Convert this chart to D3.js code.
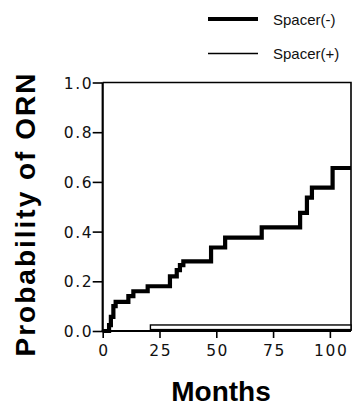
<!DOCTYPE html>
<html>
<head>
<meta charset="utf-8">
<script src="https://cdnjs.cloudflare.com/ajax/libs/d3/7.8.5/d3.min.js"></script>
<style>
  body { margin: 0; background: #fff; }
  svg { display: block; }
  .tick text { font-family: "DejaVu Sans", sans-serif; font-size: 15.5px; letter-spacing: 1.6px; fill: #111; }
  .legend text { font-family: "Liberation Sans", Arial, sans-serif; font-size: 15px; fill: #111; }
  .title { font-family: "Liberation Sans", Arial, sans-serif; font-weight: bold; font-size: 28px; fill: #000; }
</style>
</head>
<body>
<div id="chart"></div>
<script>
// Spacer(-): Kaplan-Meier steps, month at which probability jumps
var minusMonths = [0, 2.8, 3.6, 4.7, 5.7, 11.3, 13.5, 19.8, 29.6, 32.6, 34, 35.5, 47.7, 53.9, 70, 86.9, 89.9, 92.1, 101.2];
var minusProb   = [0, 0.024, 0.057, 0.10, 0.117, 0.14, 0.16, 0.18, 0.22, 0.245, 0.265, 0.28, 0.336, 0.376, 0.417, 0.475, 0.537, 0.577, 0.656];
// Spacer(+)
var plusMonths = [0, 21];
var plusProb   = [0, 0.015];

var xTicks = [0, 25, 50, 75, 100];
var yTicks = [0, 0.2, 0.4, 0.6, 0.8, 1.0];
var seriesNames = ['Spacer(-)', 'Spacer(+)'];
var maxMonth = 109.3;

var width = 353, height = 408;
var svg = d3.select('#chart').append('svg')
    .attr('width', width)
    .attr('height', height);

var x = d3.scaleLinear().domain([0, maxMonth]).range([102.7, 351]);
var y = d3.scaleLinear().domain([0, 1]).range([331, 82.5]);

// frame (top and right)
svg.append('path')
    .attr('d', 'M' + x(0) + ',' + y(1) + 'H' + x(maxMonth) + 'V' + y(0))
    .attr('fill', 'none')
    .attr('stroke', '#000')
    .attr('stroke-width', 1.6);

// Spacer(+) drawn as a hollow band
svg.append('rect')
    .attr('x', x(plusMonths[1]))
    .attr('y', y(plusProb[1]) - 2.3)
    .attr('width', x(maxMonth) - x(plusMonths[1]))
    .attr('height', 4.6)
    .attr('fill', '#fff')
    .attr('stroke', '#000')
    .attr('stroke-width', 1.4);

// Spacer(-) step curve
var minusPts = minusMonths.map(function(m, i) { return [m, minusProb[i]]; });
minusPts.push([maxMonth, minusProb[minusProb.length - 1]]);
var line = d3.line()
    .x(function(d) { return x(d[0]); })
    .y(function(d) { return y(d[1]); })
    .curve(d3.curveStepAfter);
svg.append('path')
    .datum(minusPts)
    .attr('d', line)
    .attr('fill', 'none')
    .attr('stroke', '#000')
    .attr('stroke-width', 4.2)
    .attr('stroke-linejoin', 'miter');

// axes
var yAxis = svg.append('g')
    .attr('transform', 'translate(' + x(0) + ',0)')
    .call(d3.axisLeft(y).tickValues(yTicks).tickFormat(d3.format('.1f')).tickSize(10).tickPadding(1));
var xAxis = svg.append('g')
    .attr('transform', 'translate(0,' + y(0) + ')')
    .call(d3.axisBottom(x).tickValues(xTicks).tickSize(7).tickPadding(7));
[yAxis, xAxis].forEach(function(g) {
  g.select('.domain').remove();
  g.selectAll('line').attr('stroke', '#000').attr('stroke-width', 1.6);
});
yAxis.selectAll('text').attr('dx', '1.6px').attr('dy', '0.36em');
xAxis.selectAll('text').attr('dx', '0.8px');

// axis lines
svg.append('line')
    .attr('x1', x(0)).attr('x2', x(0))
    .attr('y1', y(1)).attr('y2', y(0) + 1)
    .attr('stroke', '#000').attr('stroke-width', 2.2);
svg.append('line')
    .attr('x1', x(0) - 1).attr('x2', x(maxMonth))
    .attr('y1', y(0)).attr('y2', y(0))
    .attr('stroke', '#000').attr('stroke-width', 2);

// titles
svg.append('text')
    .attr('class', 'title')
    .attr('x', 221)
    .attr('y', 401)
    .attr('text-anchor', 'middle')
    .text('Months');
svg.append('text')
    .attr('class', 'title')
    .attr('transform', 'translate(35,214) rotate(-90)')
    .attr('text-anchor', 'middle')
    .attr('font-size', 28.5)
    .style('letter-spacing', '2px')
    .text('Probability of ORN');

// legend
var legend = svg.append('g').attr('class', 'legend');
var legendY = [19, 53.5];
var legendW = [4.2, 1.5];
seriesNames.forEach(function(name, i) {
  legend.append('line')
      .attr('x1', 208).attr('x2', 258)
      .attr('y1', legendY[i]).attr('y2', legendY[i])
      .attr('stroke', '#000')
      .attr('stroke-width', legendW[i]);
  legend.append('text')
      .attr('x', 273)
      .attr('y', legendY[i] + 5.5)
      .text(name);
});
</script>
</body>
</html>
